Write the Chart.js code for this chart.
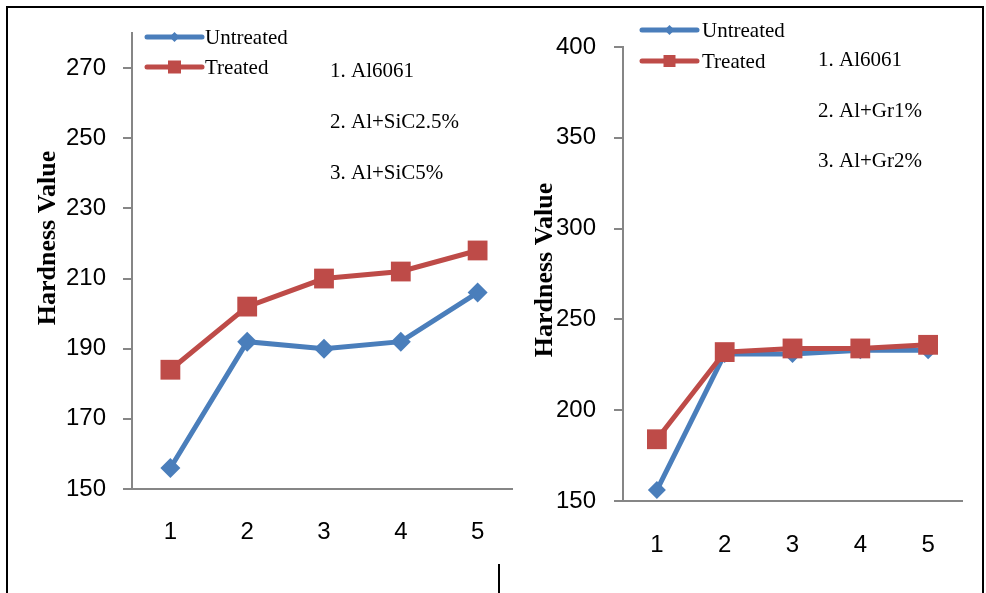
<!DOCTYPE html>
<html>
<head>
<meta charset="utf-8">
<script src="https://cdn.jsdelivr.net/npm/chart.js@4/dist/chart.umd.min.js"></script>
<style>
  html, body { margin: 0; padding: 0; background: #fff; overflow: hidden; }
  #wrap { position: relative; width: 986px; height: 593px; overflow: hidden; }
  #leftBox { position: absolute; left: 0; top: 0; width: 530px; height: 593px; }
  #rightBox { position: absolute; left: 513px; top: 0; width: 473px; height: 593px; background: #fff; }
  #frame { position: absolute; left: 6px; top: 6px; width: 974px; height: 600px;
           border-left: 2px solid #000; border-top: 2px solid #000; border-right: 2px solid #000; z-index: 5; }
  #divider { position: absolute; left: 498px; top: 564px; width: 2px; height: 30px; background: #000; z-index: 5; }
</style>
</head>
<body>
<div id="wrap">
  <div id="leftBox"><canvas id="sicChart"></canvas></div>
  <div id="rightBox"><canvas id="grChart"></canvas></div>
  <div id="frame"></div>
  <div id="divider"></div>
</div>
<script>
const categories = ["1", "2", "3", "4", "5"];

const sicUntreated = [156, 192, 190, 192, 206];
const sicTreated = [184, 202, 210, 212, 218];
const sicTicks = [150, 170, 190, 210, 230, 250, 270];
const sicNotes = ["1. Al6061", "2. Al+SiC2.5%", "3. Al+SiC5%"];

const grUntreated = [156, 231, 231, 233, 233];
const grTreated = [184, 232, 234, 234, 236];
const grTicks = [150, 200, 250, 300, 350, 400];
const grNotes = ["1. Al6061", "2. Al+Gr1%", "3. Al+Gr2%"];

const seriesLabels = ["Untreated", "Treated"];
const yTitle = "Hardness Value";

const blue = "#4A7EBB";
const red = "#BE4B48";
const axisGray = "#868686";

// legend, notes and rotated axis title, drawn in Excel's places
const decorPlugin = {
  id: "decor",
  afterDraw(chart, args, opts) {
    const ctx = chart.ctx;
    ctx.save();

    // legend rows
    chart.data.datasets.forEach((ds, i) => {
      const row = opts.legend.rows[i];
      ctx.strokeStyle = ds.borderColor;
      ctx.lineWidth = 5;
      ctx.lineCap = "round";
      ctx.beginPath();
      ctx.moveTo(opts.legend.x1, row.y);
      ctx.lineTo(opts.legend.x2, row.y);
      ctx.stroke();
      const cx = (opts.legend.x1 + opts.legend.x2) / 2;
      ctx.fillStyle = ds.backgroundColor;
      ctx.beginPath();
      if (ds.pointStyle === "rectRot") {
        const r = opts.legend.diamond;
        ctx.moveTo(cx, row.y - r);
        ctx.lineTo(cx + r, row.y);
        ctx.lineTo(cx, row.y + r);
        ctx.lineTo(cx - r, row.y);
        ctx.closePath();
      } else {
        const s = opts.legend.square;
        ctx.rect(cx - s / 2, row.y - s / 2, s, s);
      }
      ctx.fill();
      ctx.fillStyle = "#000";
      ctx.font = "21px 'Liberation Serif'";
      ctx.textAlign = "left";
      ctx.textBaseline = "alphabetic";
      ctx.fillText(ds.label, opts.legend.textX, row.textY);
    });

    // notes
    ctx.font = "21px 'Liberation Serif'";
    opts.notes.texts.forEach((t, i) => {
      ctx.fillText(t, opts.notes.x, opts.notes.ys[i]);
    });

    // y axis title
    ctx.translate(opts.title.x, opts.title.y);
    ctx.rotate(-Math.PI / 2);
    ctx.font = "bold 26px 'Liberation Serif'";
    ctx.textAlign = "center";
    ctx.fillText(yTitle, 0, 0);
    ctx.restore();
  }
};

function createHardnessChart(canvasId, untreated, treated, tickValues, cfg) {
  const tickFont = { family: "'Liberation Sans'", size: 24 };
  return new Chart(document.getElementById(canvasId), {
    type: "line",
    data: {
      labels: categories,
      datasets: [
        {
          label: seriesLabels[0],
          data: untreated,
          borderColor: blue,
          backgroundColor: blue,
          borderWidth: 5,
          pointStyle: "rectRot",
          pointRadius: cfg.diamondRadius,
          pointBorderWidth: 0,
          tension: 0,
          order: 1
        },
        {
          label: seriesLabels[1],
          data: treated,
          borderColor: red,
          backgroundColor: red,
          borderWidth: 5,
          pointStyle: "rect",
          pointRadius: cfg.squareRadius,
          pointBorderWidth: 0,
          tension: 0,
          order: 0
        }
      ]
    },
    options: {
      animation: false,
      responsive: true,
      maintainAspectRatio: false,
      layout: { padding: cfg.padding },
      plugins: {
        legend: { display: false },
        tooltip: { enabled: false },
        decor: cfg.decor
      },
      scales: {
        x: {
          offset: true,
          grid: { display: false },
          border: { color: axisGray, width: 2 },
          ticks: { color: "#000", font: tickFont, padding: cfg.xPad },
          afterFit(scale) { scale.height = cfg.xHeight; }
        },
        y: {
          min: cfg.min,
          max: cfg.max,
          afterBuildTicks(scale) {
            scale.ticks = tickValues.map(v => ({ value: v }));
          },
          ticks: {
            color: "#000",
            font: tickFont,
            padding: cfg.yPad
          },
          grid: {
            drawOnChartArea: false,
            drawTicks: true,
            tickLength: 9,
            lineWidth: 2,
            color: axisGray
          },
          border: { color: axisGray, width: 2 },
          afterFit(scale) { scale.width = cfg.yWidth; }
        }
      }
    },
    plugins: [decorPlugin]
  });
}

createHardnessChart("sicChart", sicUntreated, sicTreated, sicTicks, {
  min: 150, max: 280,
  padding: { top: 33, right: 10, left: 0, bottom: 0 },
  yWidth: 132, xHeight: 104, yPad: 17, xPad: 21,
  diamondRadius: 10, squareRadius: 14,
  decor: {
    legend: { x1: 147, x2: 202, textX: 205, diamond: 5, square: 13,
              rows: [{ y: 37, textY: 44 }, { y: 67, textY: 74 }] },
    notes: { x: 330, ys: [77, 128, 179], texts: sicNotes },
    title: { x: 55, y: 238 }
  }
});

createHardnessChart("grChart", grUntreated, grTreated, grTicks, {
  min: 150, max: 400,
  padding: { top: 47, right: 24, left: 0, bottom: 0 },
  yWidth: 110, xHeight: 92, yPad: 18, xPad: 22,
  diamondRadius: 9, squareRadius: 14,
  decor: {
    legend: { x1: 129, x2: 184, textX: 189, diamond: 5, square: 12,
              rows: [{ y: 30, textY: 37 }, { y: 61, textY: 68 }] },
    notes: { x: 305, ys: [66, 117, 167], texts: grNotes },
    title: { x: 39, y: 270 }
  }
});
</script>
</body>
</html>
